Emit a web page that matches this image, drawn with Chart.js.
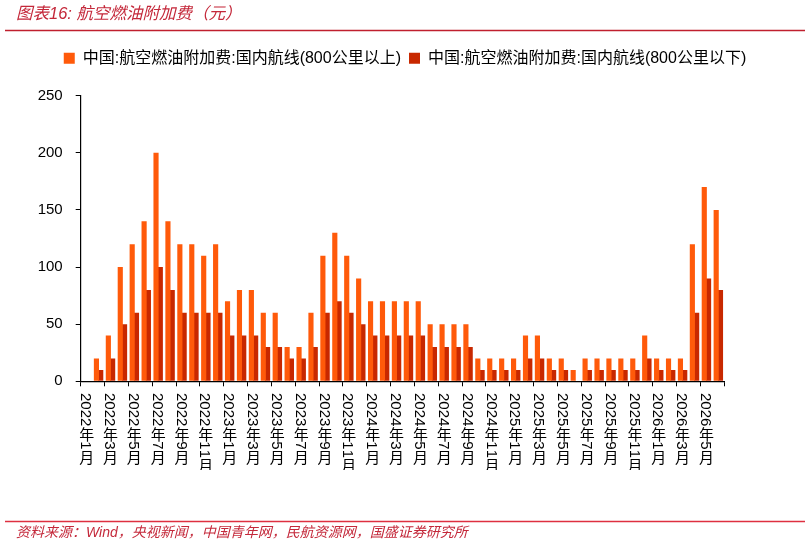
<!DOCTYPE html>
<html><head><meta charset="utf-8">
<script src="https://cdn.jsdelivr.net/npm/chart.js@4.4.1/dist/chart.umd.min.js"></script>
<style>html,body{margin:0;padding:0;background:#fff;}#wrap{width:810px;height:546px;position:relative;}</style>
</head><body><div id="wrap"><canvas id="c" width="810" height="546"></canvas></div>
<script>
const categories = [
 '2022年1月','2022年2月','2022年3月','2022年4月','2022年5月','2022年6月','2022年7月','2022年8月','2022年9月','2022年10月','2022年11月','2022年12月',
 '2023年1月','2023年2月','2023年3月','2023年4月','2023年5月','2023年6月','2023年7月','2023年8月','2023年9月','2023年10月','2023年11月','2023年12月',
 '2024年1月','2024年2月','2024年3月','2024年4月','2024年5月','2024年6月','2024年7月','2024年8月','2024年9月','2024年10月','2024年11月','2024年12月',
 '2025年1月','2025年2月','2025年3月','2025年4月','2025年5月','2025年6月','2025年7月','2025年8月','2025年9月','2025年10月','2025年11月','2025年12月',
 '2026年1月','2026年2月','2026年3月','2026年4月','2026年5月','2026年6月'
];
const seriesAbove = [
 0,20,40,100,120,140,200,140,120,120,110,120,
 70,80,80,60,60,30,30,60,110,130,110,90,
 70,70,70,70,70,50,50,50,50,20,20,20,
 20,40,40,20,20,10,20,20,20,20,20,40,
 20,20,20,120,170,150
];
const seriesBelow = [
 0,10,20,50,60,80,100,80,60,60,60,60,
 40,40,40,30,30,20,20,30,60,70,60,50,
 40,40,40,40,40,30,30,30,30,10,10,10,
 10,20,20,10,10,0,10,10,10,10,10,20,
 10,10,10,60,90,80
];
const yTicks = [0,50,100,150,200,250];
const seriesNames = ['中国:航空燃油附加费:国内航线(800公里以上)','中国:航空燃油附加费:国内航线(800公里以下)'];
const titleText = '图表16: 航空燃油附加费（元）';
const sourceText = '资料来源：Wind，央视新闻，中国青年网，民航资源网，国盛证券研究所';

const FONT = '"Liberation Sans","Noto Sans CJK SC",sans-serif';
const LBL = 15;

function drawVertical(ctx, text, x, y0){
  let y = y0;
  ctx.textBaseline = 'alphabetic';
  for (const ch of text){
    if (/[\u2E80-\u9FFF\uFF00-\uFFEF]/.test(ch)){
      ctx.textAlign = 'center';
      ctx.fillText(ch, x, y + LBL * 0.88);
      y += LBL;
    } else {
      ctx.textAlign = 'left';
      const w = ctx.measureText(ch).width;
      ctx.save();
      ctx.translate(x - LBL * 0.716 / 2, y);
      ctx.rotate(Math.PI / 2);
      ctx.fillText(ch, 0, 0);
      ctx.restore();
      y += w;
    }
  }
}

const frame = {
  id:'frame',
  beforeDraw(chart){
    const ctx = chart.ctx; ctx.save(); ctx.fillStyle='#fff'; ctx.fillRect(0,0,chart.width,chart.height); ctx.restore();
  },
  afterDraw(chart){
    const ctx = chart.ctx;
    ctx.save();
    ctx.fillStyle = '#C4283A';
    ctx.font = 'italic 16.5px ' + FONT;
    ctx.textAlign='left'; ctx.textBaseline='middle';
    ctx.fillText(titleText, 16, 14);
    ctx.strokeStyle = '#C0202E'; ctx.lineWidth = 1.5;
    ctx.beginPath(); ctx.moveTo(5, 30.5); ctx.lineTo(805, 30.5); ctx.stroke();
    ctx.strokeStyle = '#DE3040';
    ctx.beginPath(); ctx.moveTo(5, 521.5); ctx.lineTo(805, 521.5); ctx.stroke();
    ctx.fillStyle = '#C4283A';
    ctx.font = 'italic 14px ' + FONT;
    ctx.fillText(sourceText, 16, 533);
    const xs = chart.scales.x;
    ctx.beginPath(); ctx.rect(0, 385, 810, 85); ctx.clip();
    ctx.fillStyle = '#000';
    ctx.font = LBL + 'px ' + FONT;
    xs.ticks.forEach((t, i) => {
      if (i % 2 !== 0) return;
      drawVertical(ctx, categories[i], xs.getPixelForTick(i), 393);
    });
    ctx.restore();
  }
};

new Chart(document.getElementById('c'), {
  type:'bar',
  data:{
    labels: categories,
    datasets:[
      {label: seriesNames[0], data: seriesAbove, backgroundColor:'#FF5A0A', borderWidth:0, categoryPercentage:0.72, barPercentage:1.2, xAxisID:'x', yAxisID:'y'},
      {label: seriesNames[1], data: seriesBelow, backgroundColor:'#C82800', borderWidth:0, categoryPercentage:0.72, barPercentage:1.2, xAxisID:'x', yAxisID:'y'}
    ]
  },
  options:{
    responsive:false, animation:false, devicePixelRatio:1,
    layout:{padding:{top:42.3, left:0, right:0, bottom:0}},
    plugins:{
      tooltip:{enabled:false},
      legend:{position:'top', align:'center',
        labels:{color:'#000', font:{size:16, family:FONT}, boxWidth:11, boxHeight:11, padding:8}}
    },
    scales:{
      x:{type:'category', position:'bottom', offset:true,
        grid:{offset:true, drawOnChartArea:false, drawTicks:true, tickLength:5,
          color: c => (c.index === undefined || c.index % 2 === 0) ? '#000' : 'rgba(0,0,0,0)', lineWidth:1},
        border:{display:true, color:'#000', width:1.2},
        ticks:{display:false, autoSkip:false},
        afterFit: s => { s.height = 164.7; }
      },
      x2:{type:'category', axis:'x', position:'top', display:true,
        grid:{display:false}, border:{display:false}, ticks:{display:false},
        afterFit: s => { s.height = 19.4; }
      },
      y:{type:'linear', position:'left', min:0, max:250,
        afterBuildTicks: s => { s.ticks = yTicks.map(v => ({value:v})); },
        grid:{drawOnChartArea:false, drawTicks:true, tickLength:5, color:'#000'},
        border:{display:true, color:'#000', width:1.2},
        ticks:{color:'#000', font:{size:15, family:FONT}, padding:13},
        afterFit: s => { s.width = 80.7; }
      },
      y2:{type:'linear', axis:'y', position:'right', display:true,
        grid:{display:false}, border:{display:false}, ticks:{display:false},
        afterFit: s => { s.width = 85.7; }
      }
    }
  },
  plugins:[frame]
});
</script></body></html>
